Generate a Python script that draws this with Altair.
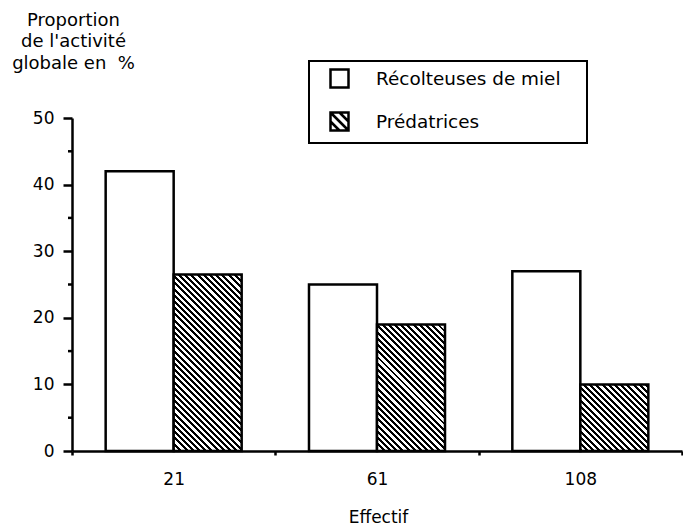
import altair as alt
import pandas as pd

# ---- data ----
effectif = ["21", "61", "108"]
groupes = ["Récolteuses de miel", "Prédatrices"]
recolteuses = [42, 25, 27]
predatrices = [26.5, 19, 10]
y_ticks = [0, 10, 20, 30, 40, 50]
y_minor = [5, 15, 25, 35, 45]
y_title = ["Proportion", "de l'activité", "globale en\u00a0 %"]
x_title = "Effectif"

rows = []
for i, e in enumerate(effectif):
    rows.append({"Effectif": e, "Groupe": groupes[0], "Valeur": recolteuses[i]})
    rows.append({"Effectif": e, "Groupe": groupes[1], "Valeur": predatrices[i]})
df = pd.DataFrame(rows)
minor_df = pd.DataFrame({"Valeur": y_minor})

# ---- layout constants ----
W, H = 610, 333
Y_MAX = 50
PAD_OUTER = 0.495
FONT = "DejaVu Sans"
step = W / len(effectif)
bar_w = step / (2 + 2 * PAD_OUTER)
px_per_unit = H / Y_MAX


def hatch(w, h, period=6.2, black=3.0):
    """Diagonal '\\' hatching as a striped linear gradient (bbox units)."""
    total = w + h
    c = total / (w * w + h * h)
    stops = [{"offset": 0, "color": "white"}]
    k = 0
    while k * period < total:
        s = round(k * period / total, 5)
        e = round(min((k * period + black) / total, 1), 5)
        stops += [
            {"offset": s, "color": "white"},
            {"offset": s, "color": "black"},
            {"offset": e, "color": "black"},
            {"offset": e, "color": "white"},
        ]
        k += 1
    stops.append({"offset": 1, "color": "white"})
    return {"gradient": "linear", "x1": 0, "y1": 1,
            "x2": c * w, "y2": 1 - c * h, "stops": stops}


y_axis = alt.Axis(values=y_ticks, title=y_title, titleAngle=0, titleAlign="center",
                  titleBaseline="top", titleX=1, titleY=-107, titleLineHeight=21.7,
                  titleFontSize=18, tickSize=9, labelPadding=9)

x_enc = alt.X(
    "Effectif:N", sort=effectif,
    scale=alt.Scale(paddingInner=0, paddingOuter=0),
    axis=alt.Axis(title=x_title, labelAngle=0, tickBand="extent", tickSize=4,
                  labelPadding=16, titleX=306, titleY=58, titleBaseline="top",
                  titleFontSize=17),
)
xoff = alt.XOffset("Groupe:N", sort=groupes,
                   scale=alt.Scale(paddingInner=0, paddingOuter=PAD_OUTER))
y_enc = alt.Y("Valeur:Q", scale=alt.Scale(domain=[0, Y_MAX], nice=False), axis=y_axis)

base = alt.Chart(df).encode(x=x_enc, xOffset=xoff, y=y_enc)

white = base.transform_filter(alt.datum.Groupe == groupes[0]).mark_bar(
    fill="white", stroke="black", strokeWidth=2.5)

layers = [white]
for i, e in enumerate(effectif):
    g = hatch(bar_w, predatrices[i] * px_per_unit)
    layers.append(
        base.transform_filter((alt.datum.Groupe == groupes[1]) & (alt.datum.Effectif == e))
        .mark_bar(fill=g, stroke="black", strokeWidth=2.5)
    )

minor = alt.Chart(minor_df).mark_rule(color="black", strokeWidth=2.5).encode(
    y=alt.Y("Valeur:Q", scale=alt.Scale(domain=[0, Y_MAX], nice=False), axis=y_axis),
    x=alt.value(-4), x2=alt.value(0))
layers.append(minor)

sq_path = "M-1,-1H1V1H-1Z"
hatch_path = "M-1,-1H1V1H-1Z M-1,-1L1,1 M-1,0L0,1 M0,-1L1,0"

legend_layer = base.transform_filter("false").mark_point(
    filled=False, color="black", strokeWidth=2.5, opacity=1
).encode(
    shape=alt.Shape(
        "Groupe:N",
        scale=alt.Scale(domain=groupes, range=[sq_path, hatch_path]),
        legend=alt.Legend(
            title="\u00a0", titleOrient="right", titlePadding=19, titleFontSize=1,
            orient="none", legendX=237, legendY=-57, direction="vertical",
            padding=7, symbolOffset=13, labelOffset=26, rowPadding=14,
            symbolSize=324, symbolStrokeWidth=2.5, symbolStrokeColor="black",
            symbolOpacity=1, labelLimit=400,
            labelFont=FONT, labelFontSize=18.4, labelColor="black",
            strokeColor="black",
        ),
    )
)
layers.append(legend_layer)

chart = (
    alt.layer(*layers)
    .properties(width=W, height=H, autosize=alt.AutoSizeParams(type="none"),
                padding={"left": 72, "top": 118, "right": 1, "bottom": 75},
                background="white")
    .configure_view(stroke=None)
    .configure_axis(domainColor="black", domainWidth=2.5, tickColor="black",
                    tickWidth=2.5, labelFont=FONT, labelFontSize=17, labelColor="black",
                    titleFont=FONT, titleFontSize=17, titleFontWeight="normal",
                    titleColor="black", grid=False)
    .configure_legend(strokeWidth=2)
)

chart.save("out.html", embed_options={"renderer": "svg", "actions": False})
